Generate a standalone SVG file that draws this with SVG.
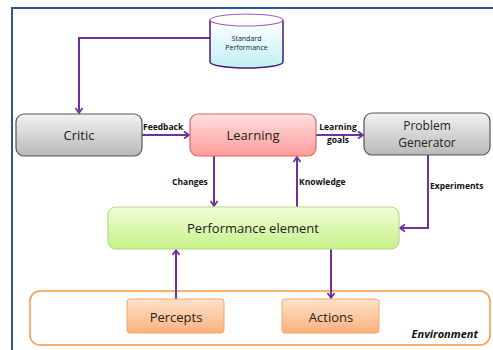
<svg xmlns="http://www.w3.org/2000/svg" width="493" height="350" viewBox="0 0 493 350">
<defs>
<linearGradient id="gGray" x1="0" y1="0" x2="0" y2="1"><stop offset="0" stop-color="#f2f2f2"/><stop offset="1" stop-color="#b8b8b8"/></linearGradient>
<linearGradient id="gPink" x1="0" y1="0" x2="0" y2="1"><stop offset="0" stop-color="#ffe0e0"/><stop offset="1" stop-color="#ff9a9a"/></linearGradient>
<linearGradient id="gGreen" x1="0" y1="0" x2="0" y2="1"><stop offset="0" stop-color="#f2ffd6"/><stop offset="1" stop-color="#c6f08a"/></linearGradient>
<linearGradient id="gOrange" x1="0" y1="0" x2="0" y2="1"><stop offset="0" stop-color="#ffe3cc"/><stop offset="1" stop-color="#fbb07a"/></linearGradient>
<linearGradient id="gCyl" x1="0" y1="0" x2="0" y2="1"><stop offset="0" stop-color="#ffffff"/><stop offset="1" stop-color="#bff0f5"/></linearGradient>
<marker id="arr" markerWidth="8" markerHeight="8" refX="6" refY="4" orient="auto" markerUnits="userSpaceOnUse"><path d="M1,0.5 L6,4 L1,7.5" fill="none" stroke="#7030a0" stroke-width="1.8"/></marker>
</defs>
<style>
.lbl{font-family:"Open Sans","Liberation Sans",sans-serif;font-size:13px;fill:#222;text-anchor:middle}
.lbl2{font-family:"Open Sans","Liberation Sans",sans-serif;font-size:12px;fill:#222;text-anchor:middle}
.sm{font-family:"Open Sans","Liberation Sans",sans-serif;font-size:8.5px;font-weight:bold;fill:#111}
.conn{fill:none;stroke:#7030a0;stroke-width:2;marker-end:url(#arr)}
</style>
<rect width="493" height="350" fill="#ffffff"/>
<path d="M12,352 L12,8 L495,8" fill="none" stroke="#2f5596" stroke-width="2"/>
<g id="environment">
<rect x="30" y="291" width="460" height="54" rx="10" fill="#ffffff" stroke="#f79646" stroke-width="1.5"/>
<text x="478" y="338" text-anchor="end" style="font-family:'Open Sans','Liberation Sans',sans-serif;font-size:11px;font-weight:bold;font-style:italic;fill:#111">Environment</text>
</g>
<g id="connectors">
<path class="conn" d="M210,38 L79,38 L79,113"/>
<path class="conn" d="M142,135 L189,135"/>
<path class="conn" d="M316,135 L363,135"/>
<path class="conn" d="M214,156 L214,206"/>
<path class="conn" d="M297,207 L297,157"/>
<path class="conn" d="M428,155 L428,228 L400,228"/>
<path class="conn" d="M176,299 L176,250"/>
<path class="conn" d="M331,249 L331,298"/>
<text class="sm" x="143" y="130">Feedback</text>
<text class="sm" x="338" y="130" text-anchor="middle">Learning</text>
<text class="sm" x="338" y="143" text-anchor="middle">goals</text>
<text class="sm" x="172" y="185">Changes</text>
<text class="sm" x="299" y="185">Knowledge</text>
<text class="sm" x="430" y="189">Experiments</text>
</g>
<g id="standard-performance">
<path d="M210,20 L210,62 A36.5,6 0 0 0 283,62 L283,20" fill="url(#gCyl)" stroke="#4b1a6e" stroke-width="1.5"/>
<ellipse cx="246.5" cy="20" rx="36.5" ry="6" fill="#ffffff" stroke="#9a5cc8" stroke-width="1.2"/>
<text x="246.5" y="41" text-anchor="middle" style="font-family:'Open Sans','Liberation Sans',sans-serif;font-size:7px;fill:#222">Standard</text>
<text x="246.5" y="50" text-anchor="middle" style="font-family:'Open Sans','Liberation Sans',sans-serif;font-size:7px;fill:#222">Performance</text>
</g>
<g id="critic">
<rect x="16" y="114" width="126" height="42" rx="8" fill="url(#gGray)" stroke="#555" stroke-width="1.2"/>
<text class="lbl" x="79" y="140">Critic</text>
</g>
<g id="learning">
<rect x="190" y="114" width="126" height="42" rx="8" fill="url(#gPink)" stroke="#e06666" stroke-width="1.2"/>
<text class="lbl" x="253" y="140">Learning</text>
</g>
<g id="problem-generator">
<rect x="364" y="113" width="126" height="42" rx="8" fill="url(#gGray)" stroke="#555" stroke-width="1.2"/>
<text class="lbl2" x="427" y="130">Problem</text>
<text class="lbl2" x="427" y="147">Generator</text>
</g>
<g id="performance-element">
<rect x="108" y="207" width="291" height="42" rx="8" fill="url(#gGreen)" stroke="#b5d98a" stroke-width="1.2"/>
<text class="lbl" x="253" y="233">Performance element</text>
</g>
<g id="percepts">
<rect x="127" y="299" width="97" height="34" rx="3" fill="url(#gOrange)" stroke="#f0a870" stroke-width="1"/>
<text class="lbl" x="176" y="322">Percepts</text>
</g>
<g id="actions">
<rect x="282" y="299" width="97" height="34" rx="3" fill="url(#gOrange)" stroke="#f0a870" stroke-width="1"/>
<text class="lbl" x="331" y="322">Actions</text>
</g>
</svg>
